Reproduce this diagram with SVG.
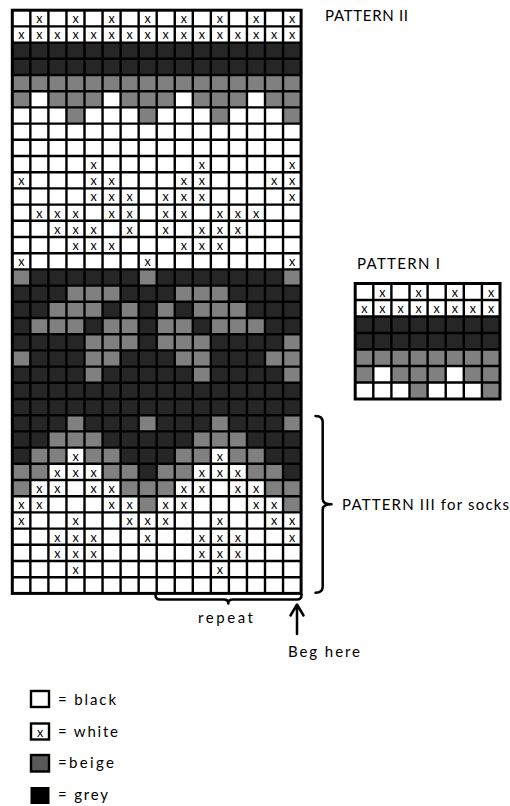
<svg xmlns="http://www.w3.org/2000/svg" width="510" height="806" viewBox="0 0 510 806">
  <style>
    .w { fill: #ffffff; }
    .d { fill: #262626; }
    .g { fill: #808080; }
    .grid { fill: none; stroke: #000; stroke-width: 2.4; }
    .frame { fill: none; stroke: #000; stroke-width: 3; }
    .x { font-family: Lato, "Liberation Sans", sans-serif; font-size: 12.5px; fill: #000; text-anchor: middle; }
    .lbl { font-family: Lato, "Liberation Sans", sans-serif; font-size: 15px; fill: #000; }
    .br { fill: none; stroke: #000; stroke-width: 2.5; stroke-linecap: round; stroke-linejoin: round; }
  </style>

  <rect width="510" height="806" fill="#fff"/>

  <!-- Chart II: 16 stitches x 36 rows, cell 18.05 x 16.2 -->
  <g id="pattern-2">
    <rect class="w" x="12.3" y="10.2" width="288.8" height="583.2"/>
    <rect class="d" x="12.3" y="42.6" width="288.8" height="32.4"/>
    <rect class="g" x="12.3" y="75" width="288.8" height="32.4"/>
    <rect class="d" x="12.3" y="269.4" width="288.8" height="210.6"/>
    <!-- row 6 -->
    <rect class="w" x="30.35" y="91.2" width="18.05" height="16.2"/>
    <rect class="w" x="102.55" y="91.2" width="18.05" height="16.2"/>
    <rect class="w" x="174.75" y="91.2" width="18.05" height="16.2"/>
    <rect class="w" x="246.95" y="91.2" width="18.05" height="16.2"/>
    <!-- row 7 -->
    <rect class="g" x="66.45" y="107.4" width="18.05" height="16.2"/>
    <rect class="g" x="138.65" y="107.4" width="18.05" height="16.2"/>
    <rect class="g" x="210.85" y="107.4" width="18.05" height="16.2"/>
    <rect class="g" x="283.05" y="107.4" width="18.05" height="16.2"/>
    <!-- row 17 -->
    <rect class="g" x="12.3" y="269.4" width="18.05" height="16.2"/>
    <rect class="g" x="138.65" y="269.4" width="18.05" height="16.2"/>
    <rect class="g" x="283.05" y="269.4" width="18.05" height="16.2"/>
    <!-- row 18 -->
    <rect class="g" x="66.45" y="285.6" width="54.15" height="16.2"/>
    <rect class="g" x="174.75" y="285.6" width="54.15" height="16.2"/>
    <!-- row 19 -->
    <rect class="g" x="48.4" y="301.8" width="54.15" height="16.2"/>
    <rect class="g" x="120.6" y="301.8" width="18.05" height="16.2"/>
    <rect class="g" x="156.7" y="301.8" width="18.05" height="16.2"/>
    <rect class="g" x="192.8" y="301.8" width="54.15" height="16.2"/>
    <!-- row 20 -->
    <rect class="g" x="30.35" y="318" width="54.15" height="16.2"/>
    <rect class="g" x="102.55" y="318" width="36.1" height="16.2"/>
    <rect class="g" x="156.7" y="318" width="36.1" height="16.2"/>
    <rect class="g" x="210.85" y="318" width="54.15" height="16.2"/>
    <!-- row 21 -->
    <rect class="g" x="84.5" y="334.2" width="54.15" height="16.2"/>
    <rect class="g" x="156.7" y="334.2" width="54.15" height="16.2"/>
    <rect class="g" x="283.05" y="334.2" width="18.05" height="16.2"/>
    <!-- row 22 -->
    <rect class="g" x="12.3" y="350.4" width="18.05" height="16.2"/>
    <rect class="g" x="84.5" y="350.4" width="36.1" height="16.2"/>
    <rect class="g" x="174.75" y="350.4" width="36.1" height="16.2"/>
    <rect class="g" x="265" y="350.4" width="36.1" height="16.2"/>
    <!-- row 23 -->
    <rect class="g" x="84.5" y="366.6" width="18.05" height="16.2"/>
    <rect class="g" x="192.8" y="366.6" width="18.05" height="16.2"/>
    <rect class="g" x="283.05" y="366.6" width="18.05" height="16.2"/>
    <!-- row 26 -->
    <rect class="g" x="66.45" y="415.2" width="18.05" height="16.2"/>
    <rect class="g" x="138.65" y="415.2" width="18.05" height="16.2"/>
    <rect class="g" x="210.85" y="415.2" width="18.05" height="16.2"/>
    <rect class="g" x="283.05" y="415.2" width="18.05" height="16.2"/>
    <!-- row 27 -->
    <rect class="g" x="48.4" y="431.4" width="54.15" height="16.2"/>
    <rect class="g" x="192.8" y="431.4" width="54.15" height="16.2"/>
    <!-- row 28 -->
    <rect class="g" x="30.35" y="447.6" width="36.1" height="16.2"/>
    <rect class="w" x="66.45" y="447.6" width="18.05" height="16.2"/>
    <rect class="g" x="84.5" y="447.6" width="36.1" height="16.2"/>
    <rect class="g" x="174.75" y="447.6" width="36.1" height="16.2"/>
    <rect class="w" x="210.85" y="447.6" width="18.05" height="16.2"/>
    <rect class="g" x="228.9" y="447.6" width="36.1" height="16.2"/>
    <!-- row 29 -->
    <rect class="g" x="12.3" y="463.8" width="36.1" height="16.2"/>
    <rect class="w" x="48.4" y="463.8" width="54.15" height="16.2"/>
    <rect class="g" x="102.55" y="463.8" width="36.1" height="16.2"/>
    <rect class="g" x="156.7" y="463.8" width="36.1" height="16.2"/>
    <rect class="w" x="192.8" y="463.8" width="54.15" height="16.2"/>
    <rect class="g" x="246.95" y="463.8" width="36.1" height="16.2"/>
    <!-- row 30 -->
    <rect class="g" x="12.3" y="480" width="18.05" height="16.2"/>
    <rect class="g" x="120.6" y="480" width="54.15" height="16.2"/>
    <rect class="g" x="265" y="480" width="36.1" height="16.2"/>
    <!-- row 31 -->
    <rect class="g" x="138.65" y="496.2" width="18.05" height="16.2"/>
    <rect class="g" x="283.05" y="496.2" width="18.05" height="16.2"/>

    <path class="grid" d="M30.35 10.2V593.4M48.4 10.2V593.4M66.45 10.2V593.4M84.5 10.2V593.4M102.55 10.2V593.4M120.6 10.2V593.4M138.65 10.2V593.4M156.7 10.2V593.4M174.75 10.2V593.4M192.8 10.2V593.4M210.85 10.2V593.4M228.9 10.2V593.4M246.95 10.2V593.4M265 10.2V593.4M283.05 10.2V593.4
      M12.3 26.4H301.1M12.3 42.6H301.1M12.3 58.8H301.1M12.3 75H301.1M12.3 91.2H301.1M12.3 107.4H301.1M12.3 123.6H301.1M12.3 139.8H301.1M12.3 156H301.1M12.3 172.2H301.1M12.3 188.4H301.1M12.3 204.6H301.1M12.3 220.8H301.1M12.3 237H301.1M12.3 253.2H301.1M12.3 269.4H301.1M12.3 285.6H301.1M12.3 301.8H301.1M12.3 318H301.1M12.3 334.2H301.1M12.3 350.4H301.1M12.3 366.6H301.1M12.3 382.8H301.1M12.3 399H301.1M12.3 415.2H301.1M12.3 431.4H301.1M12.3 447.6H301.1M12.3 463.8H301.1M12.3 480H301.1M12.3 496.2H301.1M12.3 512.4H301.1M12.3 528.6H301.1M12.3 544.8H301.1M12.3 561H301.1M12.3 577.2H301.1"/>
    <rect class="frame" x="12.3" y="10.2" width="288.8" height="583.2"/>

    <!-- white stitches -->
    <text class="x" x="39.4 75.5 111.6 147.7 183.8 219.9 256 292.1" y="23.2">xxxxxxxx</text>
    <text class="x" x="21.3 39.4 57.4 75.5 93.5 111.6 129.6 147.7 165.7 183.8 201.8 219.9 237.9 256 274 292.1" y="39.4">xxxxxxxxxxxxxxxx</text>
    <text class="x" x="93.5 201.8 292.1" y="169">xxx</text>
    <text class="x" x="21.3 93.5 111.6 183.8 201.8 274 292.1" y="185.2">xxxxxxx</text>
    <text class="x" x="93.5 111.6 129.6 165.7 183.8 201.8 292.1" y="201.4">xxxxxxx</text>
    <text class="x" x="39.4 57.4 75.5 111.6 129.6 165.7 183.8 219.9 237.9 256" y="217.6">xxxxxxxxxx</text>
    <text class="x" x="57.4 75.5 93.5 129.6 165.7 201.8 219.9 237.9" y="233.8">xxxxxxxx</text>
    <text class="x" x="75.5 93.5 111.6 183.8 201.8 219.9" y="250">xxxxxx</text>
    <text class="x" x="21.3 147.7 292.1" y="266.2">xxx</text>
    <text class="x" x="75.5 219.9" y="460.6">xx</text>
    <text class="x" x="57.4 75.5 93.5 201.8 219.9 237.9" y="476.8">xxxxxx</text>
    <text class="x" x="39.4 57.4 93.5 111.6 183.8 201.8 237.9 256" y="493">xxxxxxxx</text>
    <text class="x" x="21.3 39.4 111.6 129.6 165.7 183.8 256 274" y="509.2">xxxxxxxx</text>
    <text class="x" x="21.3 75.5 129.6 147.7 165.7 219.9 274 292.1" y="525.4">xxxxxxxx</text>
    <text class="x" x="57.4 75.5 93.5 147.7 201.8 219.9 237.9 292.1" y="541.6">xxxxxxxx</text>
    <text class="x" x="57.4 75.5 93.5 201.8 219.9 237.9" y="557.8">xxxxxx</text>
    <text class="x" x="75.5 219.9" y="574">xx</text>
  </g>

  <!-- Chart I: 8 stitches x 7 rows -->
  <g id="pattern-1">
    <rect class="w" x="355.2" y="283.5" width="144.8" height="115.5"/>
    <rect class="d" x="355.2" y="316.5" width="144.8" height="33"/>
    <rect class="g" x="355.2" y="349.5" width="144.8" height="33"/>
    <rect class="w" x="373.3" y="366" width="18.1" height="16.5"/>
    <rect class="w" x="445.7" y="366" width="18.1" height="16.5"/>
    <rect class="g" x="409.5" y="382.5" width="18.1" height="16.5"/>
    <rect class="g" x="481.9" y="382.5" width="18.1" height="16.5"/>
    <path class="grid" d="M373.3 283.5V399M391.4 283.5V399M409.5 283.5V399M427.6 283.5V399M445.7 283.5V399M463.8 283.5V399M481.9 283.5V399
      M355.2 300H500M355.2 316.5H500M355.2 333H500M355.2 349.5H500M355.2 366H500M355.2 382.5H500"/>
    <rect class="frame" x="355.2" y="283.5" width="144.8" height="115.5"/>
    <text class="x" x="382.4 418.6 454.8 491" y="296.5">xxxx</text>
    <text class="x" x="364.3 382.4 400.5 418.6 436.7 454.8 472.9 491" y="313">xxxxxxxx</text>
  </g>

  <!-- titles and notes -->
  <g id="labels">
    <text class="lbl" x="325" y="21" textLength="83">PATTERN II</text>
    <text class="lbl" x="357" y="269" textLength="83">PATTERN I</text>
    <text class="lbl" x="342" y="510" textLength="167">PATTERN III for socks</text>
    <text class="lbl" x="198" y="623" textLength="55">repeat</text>
    <text class="lbl" x="288" y="657" textLength="72">Beg here</text>
  </g>

  <!-- braces and start arrow -->
  <g id="connectors">
    <path class="br" d="M155.5 595Q155.5 599.5 160 599.5H224Q228.3 599.5 228.3 603.5Q228.3 599.5 232.6 599.5H297Q301.5 599.5 301.5 595"/>
    <path class="br" d="M315.5 416Q322.7 416 322.7 422V499Q322.7 504.3 331.5 504.3Q322.7 504.3 322.7 509.6V586.5Q322.7 592.7 315.5 592.7"/>
    <path class="br" d="M297 634V605M290.5 615.5L297 604.5L303.5 615.5" stroke-width="2.2"/>
  </g>

  <!-- key -->
  <g id="legend">
    <rect x="31" y="691" width="18" height="16" fill="#fff" stroke="#000" stroke-width="2.4"/>
    <text class="lbl" x="58" y="705" textLength="58">= black</text>
    <rect x="31" y="723.5" width="18" height="16" fill="#fff" stroke="#000" stroke-width="2.4"/>
    <text class="x" x="40" y="736.5">x</text>
    <text class="lbl" x="58" y="737" textLength="60">= white</text>
    <rect x="31" y="755" width="18" height="16.5" fill="#595959" stroke="#000" stroke-width="2.4"/>
    <text class="lbl" x="58" y="768" textLength="56">=beige</text>
    <rect x="30.5" y="787" width="19" height="17" fill="#000"/>
    <text class="lbl" x="58" y="800" textLength="50">= grey</text>
  </g>
</svg>
